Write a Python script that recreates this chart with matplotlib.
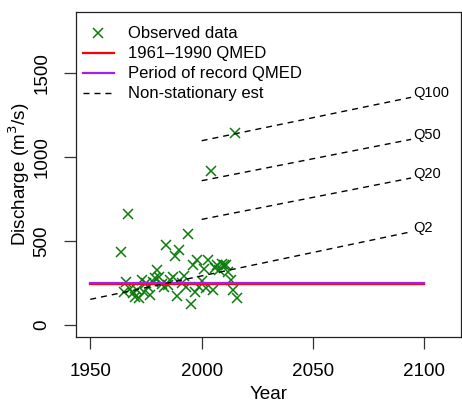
import matplotlib
matplotlib.use("Agg")
import matplotlib.pyplot as plt

plt.rcParams['font.family'] = ['Liberation Sans', 'DejaVu Sans']

# Observed annual maxima
years = [1964, 1965, 1966, 1967, 1968, 1969, 1970, 1971, 1972, 1973, 1974, 1975,
         1976, 1977, 1978, 1979, 1980, 1981, 1982, 1983, 1984, 1985, 1986, 1987,
         1988, 1989, 1990, 1991, 1992, 1993, 1994, 1995, 1996, 1997, 1998, 1999,
         2000, 2001, 2002, 2003, 2004, 2005, 2006, 2007, 2008, 2009, 2010, 2011,
         2012, 2013, 2014, 2015, 2016]
discharge = [436, 198, 256, 659, 215, 189, 170, 208, 160, 268, 195, 248,
             225, 180, 258, 278, 325, 288, 245, 228, 478, 240, 268, 288,
             411, 175, 446, 250, 290, 228, 540, 128, 357, 195, 387, 228,
             262, 335, 218, 385, 918, 210, 337, 360, 327, 365, 357, 355,
             318, 268, 208, 1141, 159]

# QMED horizontal lines
qmed_years = [1950, 2100]
qmed_6190 = 242
qmed_por = 252

# Non-stationary estimates (start/end)
q_labels = ["Q2", "Q20", "Q50", "Q100"]
q_start_year = [1950, 2000, 2000, 2000]
q_end_year = [2094, 2094, 2094, 2094]
q_start_val = [153, 629, 859, 1097]
q_end_val = [555, 875, 1105, 1355]

fig = plt.figure(figsize=(4.62, 4.03), dpi=100)
ax = fig.add_axes([76/462, 1-337/403, (461-76)/462, (337-12)/403])

green = '#0a7d0a'
ax.plot(years, discharge, linestyle='none', marker='x', color=green,
        markersize=7.8, markeredgewidth=1.1, label='Observed data', zorder=2)
ax.plot(qmed_years, [qmed_6190]*2, color='#ff0000', lw=1.6,
        label='1961\u20131990 QMED', zorder=3)
ax.plot(qmed_years, [qmed_por]*2, color='#a020f0', lw=1.6,
        label='Period of record QMED', zorder=3)
dash = (0, (4.3, 3.6))
for i in range(len(q_labels)):
    ax.plot([q_start_year[i], q_end_year[i]], [q_start_val[i], q_end_val[i]],
            color='black', lw=1.0, linestyle=dash, zorder=4,
            label='Non-stationary est' if i == 0 else None)
    ax.text(q_end_year[i] + 1, q_end_val[i] + 25, q_labels[i], fontsize=10.5,
            ha='left', va='center')

ax.set_xlim(1943.6, 2116.4)
ax.set_ylim(-71, 1863)
ax.set_xticks([1950, 2000, 2050, 2100])
ax.set_yticks([0, 500, 1000, 1500])
ax.tick_params(axis='both', direction='out', length=8.6, width=0.9,
               labelsize=13.6, pad=10, color='#333333')
for lab in ax.get_yticklabels():
    lab.set_rotation(90)
    lab.set_va('center')
for sp in ax.spines.values():
    sp.set_linewidth(0.9)
    sp.set_color('#222222')

ax.set_xlabel('Year', fontsize=13.6)
ax.xaxis.set_label_coords(0.5, -0.152)
ax.set_ylabel('Discharge (m$^3$/s)', fontsize=13.6)
ax.yaxis.set_label_coords(-0.113, 0.5)

ax.legend(loc='upper left', bbox_to_anchor=(0.0, 0.976), frameon=False,
          fontsize=12, handlelength=1.9, handletextpad=0.85,
          labelspacing=0.30, borderaxespad=0.2, borderpad=0.2)

fig.savefig('out.png', dpi=100)
